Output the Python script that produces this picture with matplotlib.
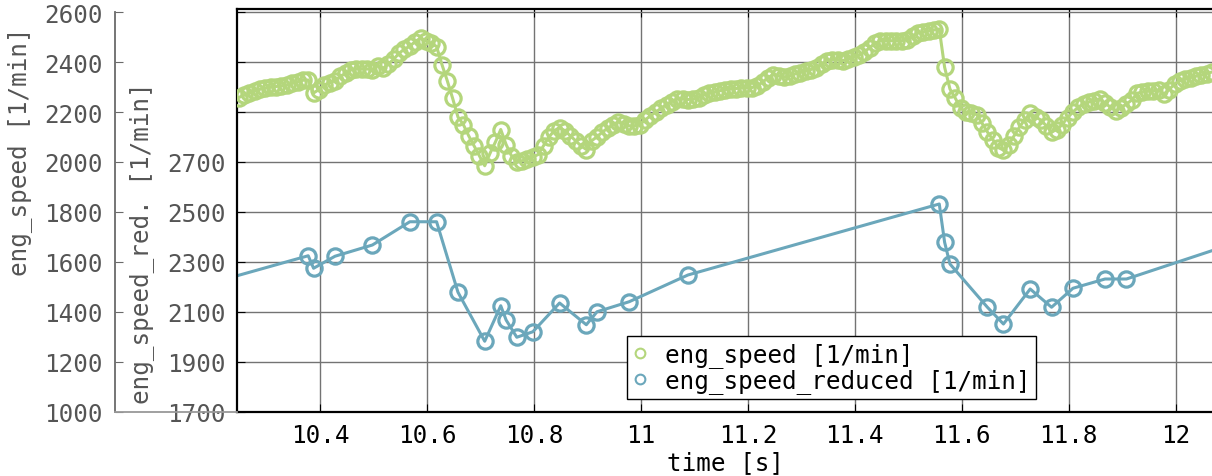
import numpy as np
import matplotlib
matplotlib.use("Agg")
import matplotlib.pyplot as plt
from matplotlib.lines import Line2D

# ---------------- data ----------------
# eng_speed sampled every 10 ms starting at t0
t0 = 10.248
dt = 0.01
eng_speed = [
    2258, 2267, 2276, 2285, 2291, 2296, 2299, 2302, 2305, 2308,
    2315, 2321, 2327, 2328, 2276, 2290, 2308, 2318, 2325, 2343,
    2355, 2368, 2372, 2372, 2372, 2370, 2385, 2375, 2392, 2412,
    2435, 2452, 2463, 2482, 2495, 2485, 2475, 2462, 2390, 2325,
    2255, 2180, 2150, 2105, 2065, 2025, 1985, 2035, 2080, 2130,
    2070, 2025, 1999, 2005, 2012, 2020, 2030, 2065, 2100, 2125,
    2138, 2125, 2105, 2085, 2065, 2050, 2085, 2101, 2120, 2135,
    2150, 2160, 2152, 2145, 2145, 2150, 2168, 2185, 2200, 2215,
    2230, 2242, 2252, 2252, 2250, 2252, 2258, 2268, 2275, 2280,
    2285, 2290, 2292, 2294, 2296, 2297, 2298, 2305, 2320, 2338,
    2350, 2345, 2340, 2345, 2352, 2358, 2364, 2370, 2378, 2392,
    2405, 2410, 2408, 2406, 2412, 2420, 2428, 2440, 2458, 2475,
    2485, 2485, 2485, 2485, 2485, 2490, 2505, 2515, 2520, 2525,
    2528, 2532, 2379, 2292, 2255, 2215, 2200, 2195, 2190, 2155,
    2120, 2090, 2058, 2048, 2070, 2105, 2140, 2170, 2195, 2180,
    2168, 2145, 2120, 2130, 2150, 2178, 2200, 2220, 2232, 2240,
    2245, 2252, 2235, 2220, 2205, 2218, 2232, 2248, 2275, 2280,
    2283, 2285, 2288, 2272, 2290, 2312, 2325, 2332, 2338, 2343,
    2348, 2354, 2360,
]
eng_time = t0 + dt * np.arange(len(eng_speed))

red_time = [10.200, 10.378, 10.388, 10.428, 10.498, 10.568, 10.618, 10.658,
            10.708, 10.738, 10.748, 10.768, 10.798, 10.848, 10.898, 10.918,
            10.978, 11.088, 11.558, 11.568, 11.578, 11.648, 11.678, 11.728,
            11.768, 11.808, 11.868, 11.908, 12.100]
red_speed = [2218, 2325, 2275, 2323, 2368, 2461, 2461, 2179,
             1983, 2125, 2068, 1999, 2021, 2136, 2049, 2101,
             2141, 2248, 2532, 2379, 2292, 2119, 2052, 2192,
             2119, 2195, 2232, 2232, 2368]

x_ticks = [10.4, 10.6, 10.8, 11.0, 11.2, 11.4, 11.6, 11.8, 12.0]
x_tick_labels = ["10.4", "10.6", "10.8", "11", "11.2", "11.4", "11.6", "11.8", "12"]
eng_ticks = [1000, 1200, 1400, 1600, 1800, 2000, 2200, 2400, 2600]
red_ticks = [1700, 1900, 2100, 2300, 2500, 2700, 2900, 3100, 3300]
red_tick_labels = ["1700", "1900", "2100", "2300", "2500", "2700", "", "", ""]

# ---------------- style ----------------
GREEN = "#b4d67c"
BLUE = "#6ba7bb"
GREY_TXT = "#555555"
GREY_AX = "#6a6a6a"
FS = 17.5
plt.rcParams["font.family"] = ["DejaVu Sans Mono"]
plt.rcParams["font.size"] = FS

W, H = 1212, 477
fig = plt.figure(figsize=(W / 100, H / 100), dpi=100)

left, right, top, bottom = 237, 1212, 10, 413
ax = fig.add_axes([left / W, (H - bottom) / H, (right - left) / W, (bottom - top) / H])
ax.set_xlim(10.2448, 12.068)
ax.set_ylim(1700, 1700 + (bottom - top) * 4)

ax2 = ax.twinx()
ax2.set_ylim(1000, 1000 + (bottom - top) * 4)
ax2.set_yticks([])
for s in ax2.spines.values():
    s.set_visible(False)

ax.grid(True, color="0.45", linewidth=1.0)
ax.set_axisbelow(True)

ax.plot(red_time, red_speed, color=BLUE, lw=2.2, marker="o", ms=11,
        mfc="none", mec=BLUE, mew=2.3, clip_on=True)
ax2.plot(eng_time, eng_speed, color=GREEN, lw=2.2, marker="o", ms=11,
         mfc="none", mec=GREEN, mew=2.3, clip_on=True)

ax.set_xticks(x_ticks)
ax.set_xticklabels(x_tick_labels)
ax.set_yticks(red_ticks)
ax.set_yticklabels(red_tick_labels)
ax.tick_params(axis="x", direction="in", top=True, length=6, pad=8,
               colors="black", labelsize=FS)
ax.tick_params(axis="y", direction="in", length=6, pad=8, labelsize=FS,
               labelcolor=GREY_TXT, color="black")
for side in ["left", "top", "bottom"]:
    ax.spines[side].set_linewidth(1.6)
    ax.spines[side].set_color("black")
ax.spines["right"].set_visible(False)

# outer axis for eng_speed
ax_out = fig.add_axes([115 / W, (H - bottom) / H, (left - 115) / W, 400 / H])
ax_out.set_ylim(1000, 2600)
ax_out.set_xticks([])
ax_out.set_yticks(eng_ticks)
ax_out.patch.set_visible(False)
ax_out.spines["top"].set_visible(False)
ax_out.spines["right"].set_visible(False)
ax_out.spines["left"].set_color(GREY_AX)
ax_out.spines["bottom"].set_color("#999999")
ax_out.spines["left"].set_linewidth(1.3)
ax_out.spines["bottom"].set_linewidth(1.3)
ax_out.tick_params(axis="y", direction="in", length=6, pad=9, labelsize=FS,
                   labelcolor=GREY_TXT, color=GREY_AX)

# axis labels
fig.text(20 / W, 1 - 152 / H, "eng_speed [1/min]", rotation=90,
         ha="center", va="center", color=GREY_TXT, fontsize=FS)
fig.text(142 / W, 1 - 243 / H, "eng_speed_red. [1/min]", rotation=90,
         ha="center", va="center", color=GREY_TXT, fontsize=FS)
fig.text(725 / W, 1 - 463 / H, "time [s]", ha="center", va="center",
         color="black", fontsize=FS)

# legend
handles = [
    Line2D([], [], ls="none", marker="o", ms=7, mfc="none", mec=GREEN, mew=1.5),
    Line2D([], [], ls="none", marker="o", ms=7, mfc="none", mec=BLUE, mew=1.5),
]
leg = ax2.legend(handles, ["eng_speed [1/min]", "eng_speed_reduced [1/min]"],
                 loc="upper left", bbox_to_anchor=(627 / W, 1 - 337 / H),
                 bbox_transform=fig.transFigure, borderaxespad=0,
                 borderpad=0.25, handlelength=0.6, handletextpad=0.7,
                 labelspacing=0.05, fancybox=False, framealpha=1,
                 edgecolor="black", fontsize=FS)
leg.get_frame().set_linewidth(1.0)

fig.savefig("out.png", dpi=100)
